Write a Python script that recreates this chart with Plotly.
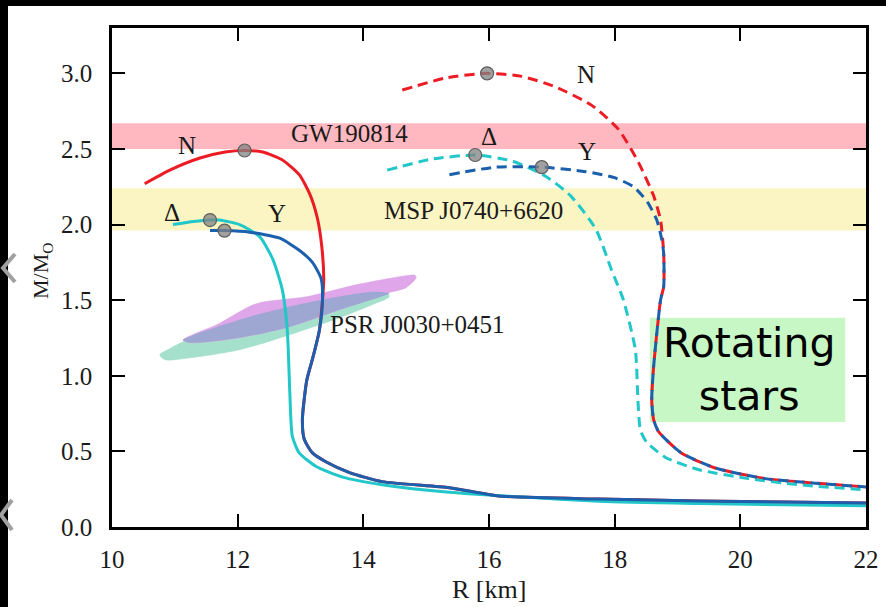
import plotly.graph_objects as go

# ---------------- data ----------------
# static (non-rotating) sequences, solid lines
n_static_r = [10.52, 10.92, 11.40, 11.80, 12.11, 12.40, 12.70, 12.98, 13.15, 13.27, 13.34, 13.37, 13.35, 13.30, 13.19, 13.10, 13.03, 13.06, 13.19, 13.41, 13.78, 14.30, 15.37, 16.16, 17.75, 19.33, 22.0]
n_static_m = [2.27, 2.36, 2.44, 2.48, 2.49, 2.48, 2.43, 2.33, 2.20, 2.04, 1.85, 1.64, 1.50, 1.30, 1.11, 0.97, 0.71, 0.58, 0.49, 0.43, 0.36, 0.30, 0.26, 0.205, 0.185, 0.172, 0.159]

y_static_r = [11.56, 11.79, 12.19, 12.67, 12.98, 13.19, 13.33, 13.35, 13.30, 13.19, 13.10, 13.03, 13.06, 13.19, 13.41, 13.78, 14.30, 15.37, 16.16, 17.75, 19.33, 22.0]
y_static_m = [1.96, 1.96, 1.95, 1.91, 1.83, 1.75, 1.64, 1.50, 1.30, 1.11, 0.97, 0.71, 0.58, 0.49, 0.43, 0.36, 0.30, 0.26, 0.205, 0.185, 0.172, 0.159]

d_static_r = [10.97, 11.30, 11.56, 11.71, 12.03, 12.35, 12.56, 12.71, 12.79, 12.83, 12.87, 12.98, 13.25, 13.67, 14.30, 15.37, 17.75, 19.33, 22.0]
d_static_m = [2.00, 2.02, 2.03, 2.03, 2.00, 1.92, 1.77, 1.57, 1.30, 0.89, 0.60, 0.49, 0.40, 0.33, 0.28, 0.23, 0.17, 0.155, 0.14]

# rotating sequences, dashed lines
n_rot_r = [14.62, 15.32, 15.97, 16.52, 17.06, 17.63, 18.06, 18.38, 18.62, 18.73, 18.78, 18.78, 18.73, 18.62, 18.59, 18.62, 18.70, 19.06, 19.60, 20.40, 21.19, 22.0]
n_rot_m = [2.89, 2.97, 3.00, 2.98, 2.91, 2.79, 2.63, 2.41, 2.19, 2.03, 1.81, 1.59, 1.50, 1.06, 0.84, 0.71, 0.63, 0.49, 0.39, 0.32, 0.29, 0.265]

y_rot_r = [15.37, 16.11, 16.84, 17.54, 18.00, 18.30, 18.52, 18.67, 18.75, 18.78, 18.78, 18.73, 18.62, 18.59, 18.62, 18.70, 19.06, 19.60, 20.40, 21.19, 22.0]
y_rot_m = [2.33, 2.38, 2.38, 2.35, 2.31, 2.25, 2.15, 2.03, 1.90, 1.81, 1.59, 1.50, 1.06, 0.84, 0.71, 0.63, 0.49, 0.39, 0.32, 0.29, 0.265]

d_rot_r = [14.38, 15.05, 15.78, 16.37, 16.90, 17.30, 17.70, 17.95, 18.14, 18.33, 18.37, 18.41, 18.51, 18.81, 19.33, 20.13, 20.92, 22.0]
d_rot_m = [2.36, 2.43, 2.46, 2.42, 2.32, 2.19, 1.97, 1.70, 1.50, 1.17, 0.84, 0.64, 0.56, 0.46, 0.38, 0.32, 0.28, 0.245]

# maximum-mass markers
max_r = [12.11, 11.56, 11.79, 15.97, 15.78, 16.84]
max_m = [2.49, 2.03, 1.96, 3.00, 2.46, 2.38]

# NICER PSR J0030+0451 credible regions
nicer_a_r = [11.13, 11.30, 11.67, 12.30, 13.10, 13.90, 14.68, 14.82, 14.84, 14.68, 14.41, 13.62, 12.83, 12.03, 11.24, 11.13]
nicer_a_m = [1.238, 1.275, 1.338, 1.477, 1.523, 1.603, 1.662, 1.665, 1.649, 1.583, 1.550, 1.437, 1.325, 1.252, 1.219, 1.238]
nicer_b_r = [10.76, 10.90, 11.13, 12.03, 13.10, 14.14, 14.38, 14.41, 14.14, 13.62, 12.83, 12.03, 11.24, 10.84, 10.76]
nicer_b_m = [1.139, 1.175, 1.225, 1.371, 1.483, 1.556, 1.550, 1.523, 1.470, 1.384, 1.272, 1.172, 1.119, 1.106, 1.139]
overlap_r = [11.13, 12.03, 13.10, 14.14, 14.38, 14.41, 13.62, 12.83, 12.03, 11.24, 11.13]
overlap_m = [1.235, 1.371, 1.483, 1.556, 1.550, 1.545, 1.437, 1.325, 1.252, 1.219, 1.235]

# observational bands
gw_band = [2.50, 2.67]
msp_band = [1.96, 2.24]

# labels
label_text = ["N", "Δ", "Y", "N", "Δ", "Y", "GW190814", "MSP J0740+6620"]
label_r = [11.19, 10.95, 12.63, 17.54, 16.00, 17.56, 13.78, 15.76]
label_m = [2.52, 2.08, 2.07, 2.99, 2.58, 2.48, 2.60, 2.09]

x_ticks = [10, 12, 14, 16, 18, 20, 22]
y_ticks = [0.0, 0.5, 1.0, 1.5, 2.0, 2.5, 3.0]

RED = "#ec1c24"
BLUE = "#1b5fad"
CYAN = "#22c7c9"
SERIF = "Liberation Serif, Times New Roman, serif"
FS = 25

fig = go.Figure()

# regions
fig.add_trace(go.Scatter(x=nicer_b_r, y=nicer_b_m, fill="toself", mode="lines",
                         line=dict(width=0.5, color="#9fdcc8", shape="spline", smoothing=0.8), fillcolor="#a5e0cc"))
fig.add_trace(go.Scatter(x=nicer_a_r, y=nicer_a_m, fill="toself", mode="lines",
                         line=dict(width=0.5, color="#d79fe3", shape="spline", smoothing=0.8), fillcolor="#e0a6ea"))
fig.add_trace(go.Scatter(x=overlap_r, y=overlap_m, fill="toself", mode="lines",
                         line=dict(width=0, shape="spline", smoothing=0.8), fillcolor="#9ea6d2"))

# static curves
fig.add_trace(go.Scatter(x=n_static_r, y=n_static_m, mode="lines", line=dict(color=RED, width=3, shape="spline", smoothing=0.6)))
fig.add_trace(go.Scatter(x=d_static_r, y=d_static_m, mode="lines", line=dict(color=CYAN, width=3, shape="spline", smoothing=0.6)))
fig.add_trace(go.Scatter(x=y_static_r, y=y_static_m, mode="lines", line=dict(color=BLUE, width=3, shape="spline", smoothing=0.6)))

# rotating curves
fig.add_trace(go.Scatter(x=n_rot_r, y=n_rot_m, mode="lines", line=dict(color=RED, width=3, dash="10px,6px", shape="spline", smoothing=0.6)))
fig.add_trace(go.Scatter(x=d_rot_r, y=d_rot_m, mode="lines", line=dict(color=CYAN, width=3, dash="10px,6px", shape="spline", smoothing=0.6)))
fig.add_trace(go.Scatter(x=y_rot_r, y=y_rot_m, mode="lines", line=dict(color=BLUE, width=3, dash="10px,6px", shape="spline", smoothing=0.6)))

# markers
fig.add_trace(go.Scatter(x=max_r, y=max_m, mode="markers",
                         marker=dict(size=13, color="rgba(130,130,130,0.75)", line=dict(color="rgb(95,95,95)", width=1.2))))

# labels
for t, xr, ym in zip(label_text, label_r, label_m):
    fig.add_annotation(x=xr, y=ym, text=t, showarrow=False,
                       font=dict(family=SERIF, size=FS, color="#1a1a1a"))
fig.add_annotation(x=13.43, y=1.34, text="PSR J0030+0451", showarrow=False, xanchor="left",
                   font=dict(family=SERIF, size=FS, color="#1a1a1a"))

# bands and box
shapes = [
    dict(type="rect", xref="paper", x0=0, x1=1, yref="y", y0=gw_band[0], y1=gw_band[1],
         fillcolor="#ffb8c0", line=dict(width=0), layer="below"),
    dict(type="rect", xref="paper", x0=0, x1=1, yref="y", y0=msp_band[0], y1=msp_band[1],
         fillcolor="#fbf5c3", line=dict(width=0), layer="below"),
    dict(type="rect", xref="x", x0=18.56, x1=21.67, yref="y", y0=0.695, y1=1.384,
         fillcolor="#c6f7c4", line=dict(width=0), layer="below"),
]

W, H = 886, 607
L, R, T, B = 112, 20, 28, 80
pw, ph = W - L - R, H - T - B


def px2paper(px, py):
    return (px - L) / pw, (H - B - py) / ph


# black frame strips (top and left)
x0, y0 = px2paper(0, 0)
x1, y1 = px2paper(W, 6)
shapes.append(dict(type="rect", xref="paper", yref="paper", x0=x0, x1=x1, y0=y1, y1=y0,
                   fillcolor="black", line=dict(width=0), layer="above"))
x0, y0 = px2paper(0, 0)
x1, y1 = px2paper(8, H)
shapes.append(dict(type="rect", xref="paper", yref="paper", x0=x0, x1=x1, y0=y1, y1=y0,
                   fillcolor="black", line=dict(width=0), layer="above"))


def chevron(pts):
    p = [px2paper(a, b) for a, b in pts]
    return "M {} {} L {} {} L {} {}".format(p[0][0], p[0][1], p[1][0], p[1][1], p[2][0], p[2][1])


for pts in ([(15, 254), (3, 268), (15, 282)], [(12, 500), (1, 515), (12, 530)]):
    shapes.append(dict(type="path", xref="paper", yref="paper", path=chevron(pts),
                       line=dict(color="#a0a0a0", width=4), layer="above"))

fig.add_annotation(x=20.14, y=1.04, text="Rotating<br>stars", showarrow=False,
                   xanchor="center", yanchor="middle",
                   font=dict(family="DejaVu Sans, Verdana, sans-serif", size=41, color="black"))

# axis titles as annotations
tx, ty = px2paper(42, 271)
fig.add_annotation(xref="paper", yref="paper", x=tx, y=ty, text="M/M<sub>O</sub>", textangle=-90,
                   xanchor="center", yanchor="middle",
                   showarrow=False, font=dict(family=SERIF, size=22, color="#1a1a1a"))
tx, ty = px2paper(489, 589)
fig.add_annotation(xref="paper", yref="paper", x=tx, y=ty, text="R [km]",
                   xanchor="center", yanchor="middle",
                   showarrow=False, font=dict(family=SERIF, size=26, color="#1a1a1a"))

axis_common = dict(showgrid=False, zeroline=False, showline=True, linecolor="black", linewidth=2.5,
                   mirror="ticks", ticks="inside", ticklen=13, tickwidth=2, tickcolor="black",
                   automargin=False,
                   tickfont=dict(family=SERIF, size=FS, color="#1a1a1a"))

fig.update_layout(
    width=W, height=H,
    margin=dict(l=L, r=R, t=T, b=B),
    paper_bgcolor="white", plot_bgcolor="white",
    showlegend=False,
    shapes=shapes,
    xaxis=dict(range=[10, 22], tickvals=x_ticks, ticktext=[str(v) for v in x_ticks],
               ticklabelstandoff=8, **axis_common),
    yaxis=dict(range=[0, 3.3], tickvals=y_ticks, ticktext=["{:.1f}".format(v) for v in y_ticks],
               ticklabelstandoff=12, **axis_common),
)

fig.write_html("out.html")
